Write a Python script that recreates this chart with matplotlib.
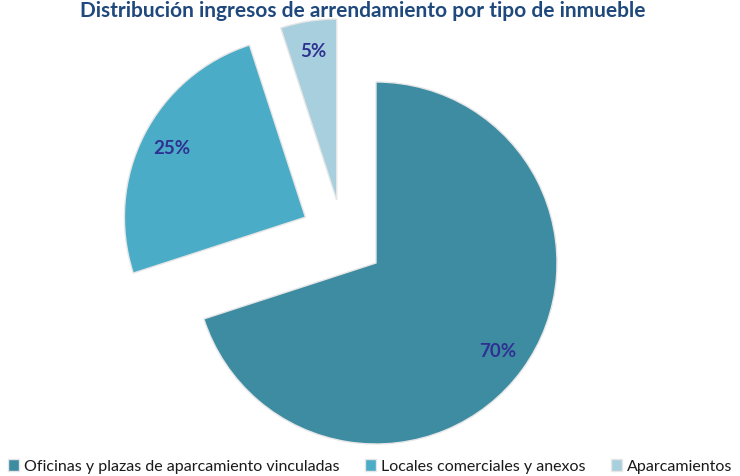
"""Distribución de ingresos de arrendamiento por tipo de inmueble (pie chart)."""

import numpy as np
import matplotlib
matplotlib.use("Agg")
from matplotlib import pyplot as plt

categorias = [
    "Oficinas y plazas de aparcamiento vinculadas",
    "Locales comerciales y anexos",
    "Aparcamientos",
]
porcentajes = [70, 25, 5]
colores = ["#3E8CA2", "#4AACC6", "#A8CFDD"]

# how far each slice is pulled out (radius units) and in which direction (deg)
separacion = [0.0, 0.465, 0.41]
direccion = [0.0, 147.0, 122.0]

plt.rcParams["font.family"] = ["Lato", "DejaVu Sans"]

fig = plt.figure(figsize=(7.4, 4.76), dpi=100)
ax = fig.add_axes([0, 0, 1, 1])

wedges, _, autotexts = ax.pie(
    porcentajes,
    colors=colores,
    startangle=90,
    counterclock=False,
    autopct="%d%%",
    pctdistance=0.83,
    wedgeprops={"edgecolor": "#e6e6e6", "linewidth": 1.0},
    frame=True,
)

# pull the slices out like the original Excel chart
for w, t, d, a in zip(wedges, autotexts, separacion, direccion):
    dx, dy = d * np.cos(np.radians(a)), d * np.sin(np.radians(a))
    w.set_center((dx, dy))
    x, y = t.get_position()
    t.set_position((x + dx, y + dy))
    t.set_color("#2E3192")
    t.set_fontsize(13.5)
    t.set_fontweight("bold")

# pie centre and radius in pixels, radius 1 == 181 px
cx, cy, r = 376, 263, 181
ax.set_xlim(-cx / r, (740 - cx) / r)
ax.set_ylim(-(476 - cy) / r, cy / r)
ax.set_aspect("auto")
ax.axis("off")

fig.text(0.49, 1 - 17 / 476, "Distribución ingresos de arrendamiento por tipo de inmueble",
         ha="center", va="baseline", fontsize=15, fontweight="bold", color="#1F497D")

fig.legend(
    wedges, categorias,
    loc="lower center", bbox_to_anchor=(0.5, -0.025), ncol=3,
    frameon=False, fontsize=11.5, handlelength=0.7, handleheight=0.7,
    handletextpad=0.3, columnspacing=1.6, labelcolor="#1a1a1a",
)

fig.savefig("out.png", dpi=100)
